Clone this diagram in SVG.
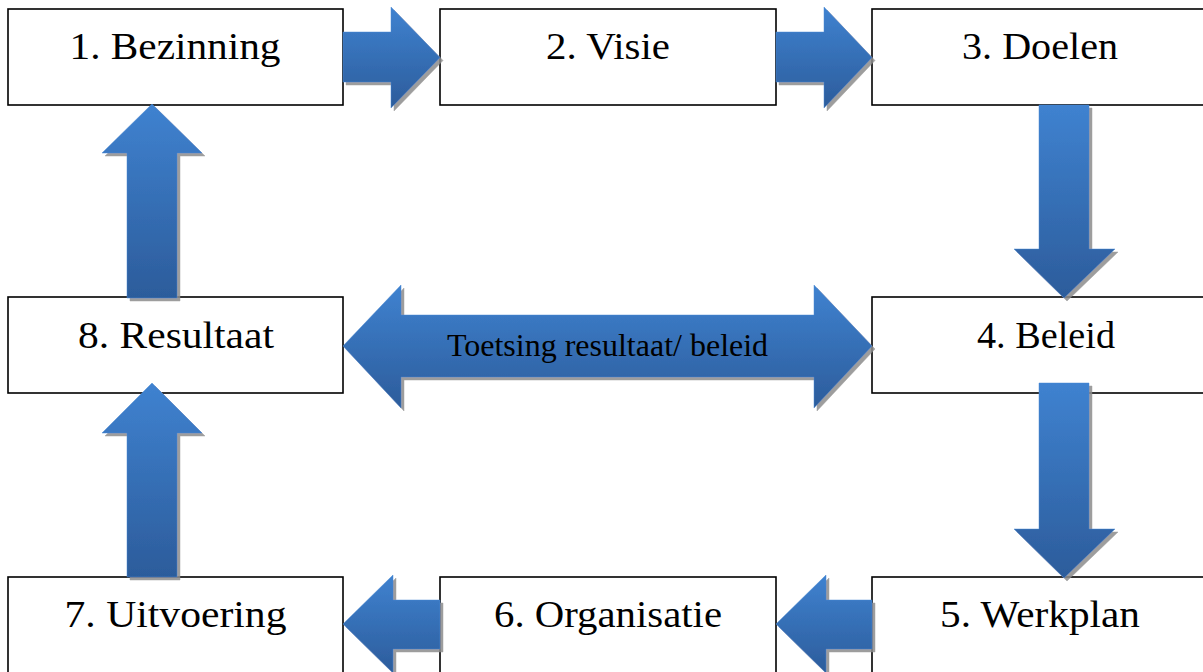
<svg xmlns="http://www.w3.org/2000/svg" width="1203" height="672" viewBox="0 0 1203 672">
<style>
.box{fill:#ffffff;stroke:#000000;stroke-width:1.6}
.lbl{font-family:"Liberation Serif","Times New Roman",Times,serif;font-size:38px;fill:#000000;text-anchor:middle}
.mid{font-family:"Liberation Serif","Times New Roman",Times,serif;font-size:32px;fill:#000000;text-anchor:middle}
.arr{fill:url(#g);stroke:#4a88d2;stroke-width:0.8;stroke-opacity:0.6;filter:url(#sh)}
</style>
<defs>
<linearGradient id="g" x1="0" y1="0" x2="0" y2="1">
<stop offset="0" stop-color="#3f82d0"/>
<stop offset="1" stop-color="#2c5c9b"/>
</linearGradient>
<filter id="sh" x="-10%" y="-10%" width="130%" height="130%">
<feGaussianBlur in="SourceAlpha" stdDeviation="0.7" result="b"/>
<feOffset in="b" dx="3" dy="3" result="o"/>
<feFlood flood-color="#8c8c8c" flood-opacity="0.85"/>
<feComposite in2="o" operator="in" result="s"/>
<feMerge><feMergeNode in="s"/><feMergeNode in="SourceGraphic"/></feMerge>
</filter>
</defs>
<rect width="1203" height="672" fill="#ffffff"/>
<g id="node1"><rect class="box" x="8" y="9" width="335" height="96"/><text class="lbl" x="175" y="59" textLength="211" lengthAdjust="spacingAndGlyphs">1. Bezinning</text></g>
<g id="node2"><rect class="box" x="440" y="9" width="336" height="96"/><text class="lbl" x="608" y="59" textLength="124" lengthAdjust="spacingAndGlyphs">2. Visie</text></g>
<g id="node3"><rect class="box" x="872" y="9" width="340" height="96"/><text class="lbl" x="1040" y="59" textLength="156" lengthAdjust="spacingAndGlyphs">3. Doelen</text></g>
<g id="node4"><rect class="box" x="872" y="297" width="340" height="96"/><text class="lbl" x="1046" y="348" textLength="138" lengthAdjust="spacingAndGlyphs">4. Beleid</text></g>
<g id="node5"><rect class="box" x="872" y="577" width="340" height="110"/><text class="lbl" x="1040" y="627" textLength="200" lengthAdjust="spacingAndGlyphs">5. Werkplan</text></g>
<g id="node6"><rect class="box" x="440" y="577" width="336" height="110"/><text class="lbl" x="608" y="627" textLength="228" lengthAdjust="spacingAndGlyphs">6. Organisatie</text></g>
<g id="node7"><rect class="box" x="8" y="577" width="335" height="110"/><text class="lbl" x="175.5" y="627" textLength="222" lengthAdjust="spacingAndGlyphs">7. Uitvoering</text></g>
<g id="node8"><rect class="box" x="8" y="297" width="335" height="96"/><text class="lbl" x="176" y="348" textLength="196" lengthAdjust="spacingAndGlyphs">8. Resultaat</text></g>
<g id="connectors">
<polygon class="arr" points="343,32 391,32 391,7 440,57.5 391,108 391,82 343,82"/>
<polygon class="arr" points="776,32 824,32 824,7 872,57.5 824,108 824,82 776,82"/>
<polygon class="arr" points="1039,105 1089,105 1089,249 1115,249 1064,298 1014,249 1039,249"/>
<polygon class="arr" points="1039,383 1089,383 1089,529 1115,529 1064,578 1014,529 1039,529"/>
<polygon class="arr" points="872,600 826,600 826,575 776,624 826,673 826,649 872,649"/>
<polygon class="arr" points="440,600 393,600 393,575 343,624 393,673 393,649 440,649"/>
<polygon class="arr" points="127,577 127,433 102,433 152,383 202,433 177,433 177,577"/>
<polygon class="arr" points="127,298 127,153 102,153 152,104 202,153 177,153 177,298"/>
<polygon class="arr" points="343,346 401,285 401,315 814,315 814,285 872,346 814,408 814,377 401,377 401,408"/>
<text class="mid" x="607.5" y="356">Toetsing resultaat/ beleid</text>
</g>
</svg>
